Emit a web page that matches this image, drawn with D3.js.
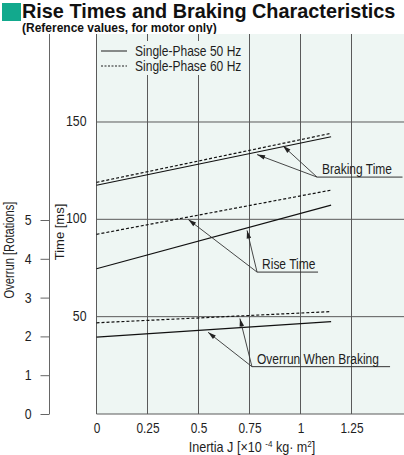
<!DOCTYPE html>
<html>
<head>
<meta charset="utf-8">
<script src="https://cdn.jsdelivr.net/npm/d3@7"></script>
<style>
    body { margin: 0; background: white; }
    svg { display: block; font-family: "Liberation Sans", Arial, sans-serif; }
</style>
</head>
<body>
<svg id="chart"></svg>
<script>
    // values
    let inertia = [0, 1.15]
    let braking50 = [117.5, 142.4]
    let braking60 = [119, 144.2]
    let rise50 = [74.6, 107.3]
    let rise60 = [92.3, 115]
    let overrun50 = [1.98, 2.38]
    let overrun60 = [2.35, 2.64]

    let xTicks = [0, 0.25, 0.5, 0.75, 1, 1.25]
    let timeTicks = [50, 100, 150]
    let overrunTicks = [0, 1, 2, 3, 4, 5]

    let legendLabels = ["Single-Phase 50 Hz", "Single-Phase 60 Hz"]

    let bg = "#eef6f3"
    let ink = "#1e1e1e"

    // the reference uses a condensed face, so squeeze the glyphs horizontally
    function condense(sel, k) {
        sel.each(function () {
            let w = this.getComputedTextLength()
            d3.select(this).attr("textLength", w * k).attr("lengthAdjust", "spacingAndGlyphs")
        })
    }

    function getConfig() {
        let width = 404, height = 455
        let plot = { left: 96.5, right: 402.5, top: 34, bottom: 414 }
        let container = d3.select("#chart").attr("width", width).attr("height", height)
        return { width, height, plot, container }
    }

    function getScales(config) {
        let { plot } = config
        let x = d3.scaleLinear().domain([0, 1.5]).range([plot.left, plot.right])
        let time = d3.scaleLinear().domain([0, 195.2]).range([plot.bottom, plot.top])
        let overrun = d3.scaleLinear().domain([0, 5]).range([plot.bottom, 220])
        return { x, time, overrun }
    }

    function interp(series, xv) {
        return series[0] + (series[1] - series[0]) * (xv - inertia[0]) / (inertia[1] - inertia[0])
    }

    function drawTitle(config) {
        let { container } = config
        container.append("rect").attr("x", 2).attr("y", 3).attr("width", 19).attr("height", 18).attr("fill", "#12a98d")
        container.append("text").attr("transform", "translate(22,18) scale(0.945,1)")
            .attr("font-size", 21).attr("font-weight", "bold").attr("fill", "#111")
            .text("Rise Times and Braking Characteristics")
        container.append("text").attr("transform", "translate(22,31.5)")
            .attr("font-size", 12).attr("font-weight", "bold").attr("fill", "#111")
            .text("(Reference values, for motor only)")
    }

    function drawGrid(scales, config) {
        let { container, plot } = config
        let { x, time } = scales
        container.append("rect")
            .attr("x", plot.left).attr("y", plot.top)
            .attr("width", config.width - plot.left).attr("height", plot.bottom - plot.top)
            .attr("fill", bg)

        container.append("g").selectAll("line").data(xTicks.slice(1)).enter().append("line")
            .attr("x1", d => x(d)).attr("x2", d => x(d))
            .attr("y1", plot.top).attr("y2", plot.bottom)
            .attr("stroke", "#5a5a5a").attr("stroke-width", 1)

        container.append("g").selectAll("line").data(timeTicks).enter().append("line")
            .attr("x1", plot.left).attr("x2", config.width)
            .attr("y1", d => time(d)).attr("y2", d => time(d))
            .attr("stroke", "#5a5a5a").attr("stroke-width", 1)

        // frame: left and bottom only
        container.append("path")
            .attr("d", `M${plot.left},${plot.top}V${plot.bottom}H${config.width}`)
            .attr("fill", "none").attr("stroke", "#5a5a5a").attr("stroke-width", 1)
    }

    function drawAxes(scales, config) {
        let { container, plot } = config
        let { x, time, overrun } = scales

        let axisX = d3.axisBottom(x).tickValues(xTicks).tickSize(0).tickPadding(9)
            .tickFormat(d3.format(""))
        let gx = container.append("g").attr("transform", `translate(0,${plot.bottom})`).call(axisX)
        gx.select(".domain").remove()
        gx.selectAll("text").attr("font-size", 14).attr("fill", ink).attr("font-family", null)
            .call(condense, 0.85)

        let axisT = d3.axisLeft(time).tickValues(timeTicks).tickSize(0).tickPadding(10)
        let gt = container.append("g").attr("transform", `translate(${plot.left},0)`).call(axisT)
        gt.select(".domain").remove()
        gt.selectAll("text").attr("font-size", 14).attr("fill", ink).attr("font-family", null).attr("dy", "0.25em")
            .call(condense, 0.88)

        let axisO = d3.axisLeft(overrun).tickValues(overrunTicks).tickSize(9).tickPadding(9)
            .tickFormat(d3.format("d"))
        let go = container.append("g").attr("transform", "translate(49.5,0)").call(axisO)
        go.select(".domain").remove()
        go.selectAll("line").attr("stroke", "#666")
        go.selectAll("text").attr("font-size", 14).attr("fill", ink).attr("font-family", null)
            .call(condense, 0.88)
        container.append("line").attr("x1", 49.5).attr("x2", 49.5)
            .attr("y1", plot.top).attr("y2", plot.bottom)
            .attr("stroke", "#666")

        container.append("text")
            .attr("transform", "translate(13.5,250) rotate(-90) scale(0.8,1)")
            .attr("text-anchor", "middle").attr("font-size", 14).attr("fill", ink)
            .text("Overrun [Rotations]")
        container.append("text")
            .attr("transform", "translate(63.5,232) rotate(-90)")
            .attr("text-anchor", "middle").attr("font-size", 13).attr("fill", ink)
            .text("Time [ms]")

        let xt = container.append("text")
            .attr("transform", "translate(252,452) scale(0.9,1)")
            .attr("text-anchor", "middle").attr("font-size", 14).attr("fill", ink)
        xt.append("tspan").text("Inertia J  [×10 ")
        xt.append("tspan").attr("font-size", 9).attr("dy", -5).text("-4")
        xt.append("tspan").attr("dy", 5).text(" kg· m")
        xt.append("tspan").attr("font-size", 9).attr("dy", -5).text("2")
        xt.append("tspan").attr("dy", 5).text("]")
    }

    function drawLegend(config) {
        let { container } = config
        let g = container.append("g")
        g.append("rect").attr("x", 98).attr("y", 41).attr("width", 151).attr("height", 34).attr("fill", bg)
        legendLabels.forEach((label, i) => {
            let y = 51 + i * 15
            g.append("line").attr("x1", 101).attr("x2", 127).attr("y1", y).attr("y2", y)
                .attr("stroke", ink).attr("stroke-width", 1)
                .attr("stroke-dasharray", i == 1 ? "2,1.5" : null)
            g.append("text").attr("transform", `translate(135,${y + 5}) scale(0.86,1)`)
                .attr("font-size", 14).attr("fill", ink).text(label)
        })
    }

    function drawSeries(scales, config) {
        let { container } = config
        let { x, time, overrun } = scales
        let series = [
            { values: braking50, y: time, dash: null },
            { values: braking60, y: time, dash: "3,2" },
            { values: rise50, y: time, dash: null },
            { values: rise60, y: time, dash: "3,2" },
            { values: overrun50, y: overrun, dash: null },
            { values: overrun60, y: overrun, dash: "3,2" }
        ]
        let line = d3.line()
        container.append("g").selectAll("path").data(series).enter().append("path")
            .attr("d", s => line(inertia.map((xv, i) => [x(xv), s.y(s.values[i])])))
            .attr("fill", "none").attr("stroke", "#111").attr("stroke-width", 1.2)
            .attr("stroke-dasharray", s => s.dash)
    }

    function drawAnnotations(scales, config) {
        let { container } = config
        let { x, time, overrun } = scales
        let notes = [
            { label: "Braking Time", ax: 1.081, ay: 121.7, end: 1.5, y: time,
              targets: [{ s: braking60, x: 0.914 }, { s: braking50, x: 0.787 }] },
            { label: "Rise Time", ax: 0.787, ay: 72.9, end: 1.086, y: time,
              targets: [{ s: rise50, x: 0.738 }, { s: rise60, x: 0.45 }] },
            { label: "Overrun When Braking", ax: 0.762, ay: 1.22, end: 1.439, y: overrun,
              targets: [{ s: overrun60, x: 0.703 }, { s: overrun50, x: 0.547 }] }
        ]
        let g = container.append("g")
        notes.forEach(n => {
            let ax = x(n.ax), ay = n.y(n.ay)
            g.append("line").attr("x1", ax).attr("x2", x(n.end)).attr("y1", ay).attr("y2", ay)
                .attr("stroke", "#333").attr("stroke-width", 1)
            g.append("text").attr("transform", `translate(${ax + 5},${ay - 3}) scale(0.8,1)`)
                .attr("font-size", 15).attr("fill", ink).text(n.label)
            n.targets.forEach(t => {
                let tx = x(t.x), ty = n.y(interp(t.s, t.x)) + 2.5
                let ang = Math.atan2(ay - ty, ax - tx)
                g.append("line").attr("x1", ax).attr("y1", ay).attr("x2", tx).attr("y2", ty)
                    .attr("stroke", "#333").attr("stroke-width", 0.9)
                let len = 8, w = 2.3
                let bx = tx + len * Math.cos(ang), by = ty + len * Math.sin(ang)
                let px = -Math.sin(ang) * w, py = Math.cos(ang) * w
                g.append("path")
                    .attr("d", `M${tx},${ty}L${bx + px},${by + py}L${bx - px},${by - py}Z`)
                    .attr("fill", "#222")
            })
        })
    }

    function drawChart() {
        let config = getConfig()
        let scales = getScales(config)
        drawTitle(config)
        drawGrid(scales, config)
        drawLegend(config)
        drawSeries(scales, config)
        drawAnnotations(scales, config)
        drawAxes(scales, config)
    }

    drawChart()
</script>
</body>
</html>
